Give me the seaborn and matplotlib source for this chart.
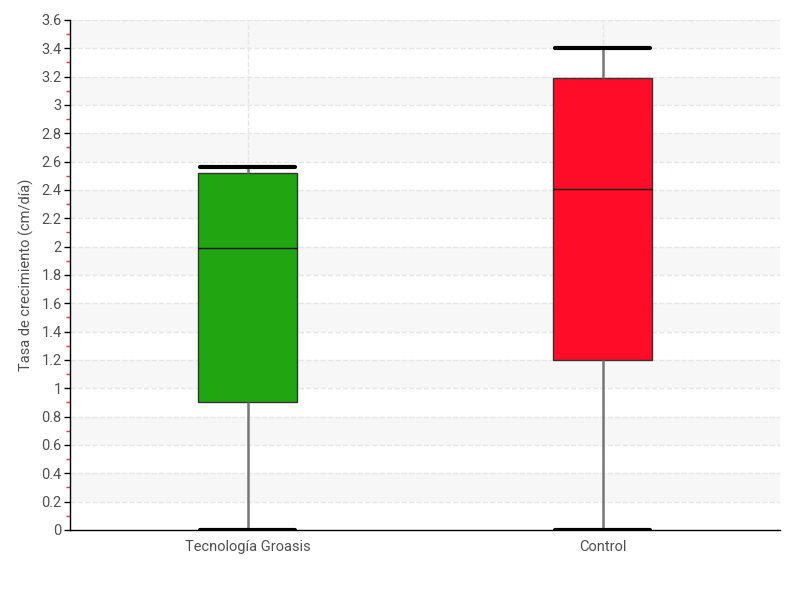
import matplotlib

matplotlib.use("Agg")
import matplotlib.pyplot as plt  # noqa: E402
import numpy as np  # noqa: E402
import pandas as pd  # noqa: E402
import seaborn as sns  # noqa: E402
from matplotlib.ticker import MultipleLocator, FuncFormatter  # noqa: E402

# five-number summaries (min, q1, median, q3, max)
categories = ["Tecnología Groasis", "Control"]
groasis = [0.0, 0.9, 1.99, 2.52, 2.56]
control = [0.0, 1.2, 2.41, 3.19, 3.40]
colors = ["#21a510", "#ff0c28"]
y_ticks = np.arange(0, 3.61, 0.2)

df = pd.DataFrame({
    "grupo": [categories[0]] * len(groasis) + [categories[1]] * len(control),
    "tasa": groasis + control,
})

sns.set_theme(style="white")
plt.rcParams["font.family"] = ["Roboto", "DejaVu Sans"]

fig = plt.figure(figsize=(8, 6), dpi=100)
ax = fig.add_axes([0.0875, 0.1167, 0.8875, 0.85])

# alternating light bands
for i, lo in enumerate(y_ticks[:-1]):
    if i % 2 == 1:
        ax.axhspan(lo, lo + 0.2, color="#f7f7f7", zorder=0, lw=0)

sns.boxplot(
    data=df, x="grupo", y="tasa", hue="grupo", order=categories,
    palette=colors, saturation=1, whis=np.inf, width=0.28, ax=ax, legend=False,
    linewidth=1, linecolor="#333333",
    medianprops=dict(color="#111111", lw=1),
    whiskerprops=dict(color="#777777", lw=1.8),
    capprops=dict(color="black", lw=3),
    capwidths=0.27,
    zorder=3,
)

ax.set_ylim(0, 3.6)
ax.set_xlim(-0.5, 1.5)
ax.yaxis.set_major_locator(MultipleLocator(0.2))
ax.yaxis.set_minor_locator(MultipleLocator(0.1))
ax.yaxis.set_major_formatter(FuncFormatter(lambda v, _: f"{v:.1f}".rstrip("0").rstrip(".")))
ax.grid(axis="y", which="major", color="#e6e6e6", ls="--", lw=1, zorder=1)
ax.grid(axis="x", which="major", color="#e6e6e6", ls="--", lw=1, zorder=1)
ax.set_axisbelow(True)

ax.tick_params(axis="y", which="major", left=True, length=4, width=1, color="black",
               labelsize=10.5, labelcolor="#505050", pad=2)
ax.tick_params(axis="y", which="minor", left=True, length=3, width=1, color="#ff3333")
ax.tick_params(axis="x", bottom=False, labelsize=10.5, labelcolor="#505050", pad=1)

for side in ["top", "right"]:
    ax.spines[side].set_visible(False)
for side in ["left", "bottom"]:
    ax.spines[side].set_color("black")
    ax.spines[side].set_linewidth(1)

ax.set_xlabel("")
ax.set_ylabel("Tasa de crecimiento (cm/día)", fontsize=10.5, color="#505050")
ax.yaxis.set_label_coords(-0.05, 0.5)

fig.savefig("out.png", dpi=100)
